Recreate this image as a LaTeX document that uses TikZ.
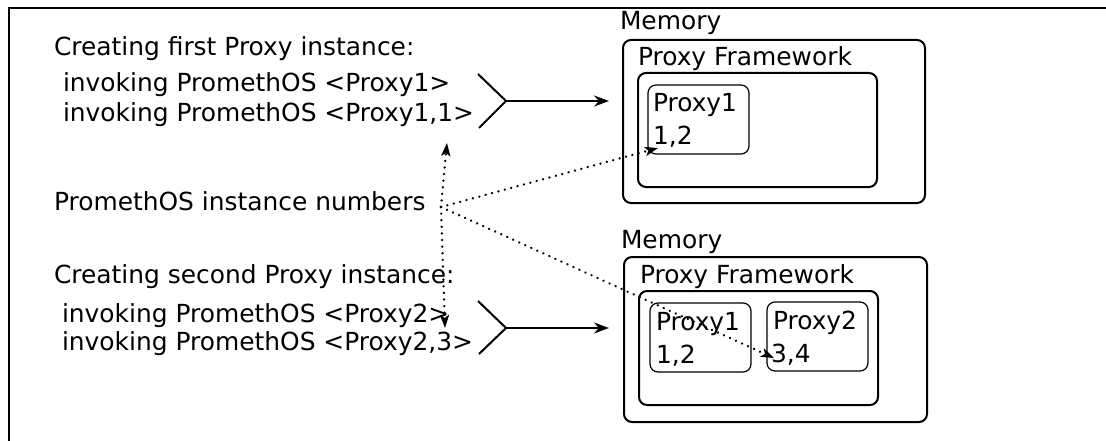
\documentclass[tikz,border=0pt]{standalone}
\usepackage{fontspec}
\setmainfont{DejaVu Sans}
\usetikzlibrary{arrows.meta}
\begin{document}
\begin{tikzpicture}[x=1pt,y=-1pt,
  every node/.style={font=\fontsize{24.9}{29}\selectfont, inner sep=0pt, outer sep=0pt},
  txt/.style={anchor=base west},
  frame/.style={draw, line width=2pt, rounded corners=8pt, anchor=north west},
  proxybox/.style={draw, line width=1.2pt, rounded corners=8pt, anchor=north west},
  chevron/.style={line width=2pt},
  flow/.style={line width=2pt, -{Stealth[length=15pt,width=11pt,inset=5pt]}},
  numlink/.style={line width=2.6pt, line cap=round, dash pattern=on 0.01pt off 6.6pt,
    -{Stealth[length=13pt,width=9pt,inset=3pt]}}
]
\clip (0,0) rectangle (1106,441);
\fill[white] (0,0) rectangle (1106,441);
% outer frame, running past the right and bottom edges
\draw[line width=2pt] (9,8) rectangle (1130,470);

% left column: the two creation steps
\node[txt] (h1) at (54,56) {Creating first Proxy instance:};
\node[txt] (i1) at (63,92) {invoking PromethOS <Proxy1>};
\node[txt] (i2) at (63,122) {invoking PromethOS <Proxy1,1>};
\node[txt] (nums) at (54,211) {PromethOS instance numbers};
\node[txt] (h2) at (54,283) {Creating second Proxy instance:};
\node[txt] (i3) at (62,322) {invoking PromethOS <Proxy2>};
\node[txt] (i4) at (62,350) {invoking PromethOS <Proxy2,3>};

% memory after the first instance
\node[txt] (m1) at (620,30) {Memory};
\node[frame, minimum width=302pt, minimum height=163pt] (mem1) at (623,40) {};
\node[txt] (f1) at (638,66) {Proxy Framework};
\node[frame, minimum width=239pt, minimum height=114pt] (fw1) at (638,73) {};
\node[proxybox, minimum width=101pt, minimum height=69pt] (pa) at (648,85) {};
\node[txt] (pa1) at (653,112) {Proxy1};
\node[txt] (pa2) at (653,145) {1,2};

% memory after the second instance
\node[txt] (m2) at (621,248) {Memory};
\node[frame, minimum width=303pt, minimum height=165pt] (mem2) at (624,257) {};
\node[txt] (f2) at (640,283) {Proxy Framework};
\node[frame, minimum width=239pt, minimum height=114pt] (fw2) at (639,291) {};
\node[proxybox, minimum width=101pt, minimum height=69pt] (pb) at (650,303) {};
\node[txt] (pb1) at (656,330) {Proxy1};
\node[txt] (pb2) at (656,363) {1,2};
\node[proxybox, minimum width=101pt, minimum height=69pt] (pc) at (767,302) {};
\node[txt] (pc1) at (773,329) {Proxy2};
\node[txt] (pc2) at (771,362) {3,4};

% braces gathering each pair of invocations
\coordinate (c1a) at (478,74);
\coordinate (c1v) at (506,101);
\coordinate (c1b) at (479,128);
\coordinate (c2a) at (478,301);
\coordinate (c2v) at (506,328);
\coordinate (c2b) at (479,354);
\draw[chevron] (c1a) -- (c1v) -- (c1b);
\draw[chevron] (c2a) -- (c2v) -- (c2b);
\draw[flow, shorten >=14pt] (c1v) -- (mem1.west |- c1v);
\draw[flow, shorten >=15pt] (c2v) -- (mem2.west |- c2v);

% instance-number links
\coordinate (src) at (441,207);
\coordinate (n1) at (447,143);
\coordinate (n2) at (445,328);
\coordinate (n3) at (658,148);
\coordinate (n4) at (774,358);
\draw[numlink] (src) -- (n1);
\draw[numlink] (src) -- (n2);
\draw[numlink] (src) -- (n3);
\draw[numlink] (src) -- (n4);
\end{tikzpicture}
\end{document}
